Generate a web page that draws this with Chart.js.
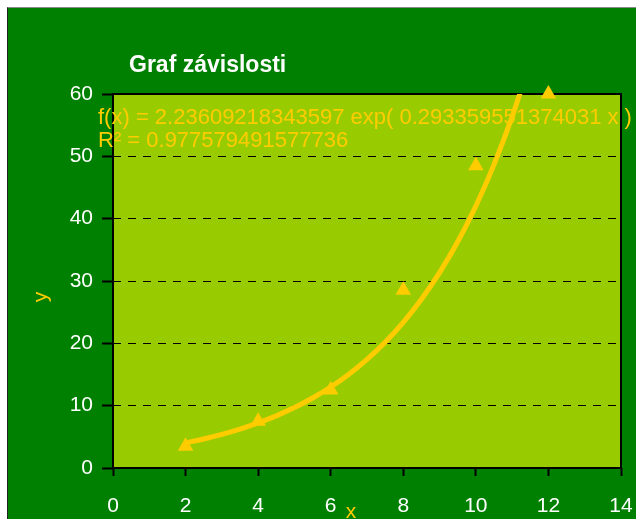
<!DOCTYPE html>
<html lang="cs">
<head>
<meta charset="UTF-8">
<title>Graf závislosti</title>
<script src="https://cdn.jsdelivr.net/npm/chart.js"></script>
<style>
 body { margin: 0; background: #fff; overflow: hidden; }
 .ramecek {
     position: absolute; left: 7px; top: 7px; width: 628px; height: 511px;
     border-left: 1px solid #222; border-top: 1px solid #888;
     background: #008000;
 }
 #graf { position: absolute; left: 0; top: 0; }
</style>
</head>
<body>
<div class="ramecek"></div>
<canvas id="graf" width="636" height="519"></canvas>

<script>
// namerene body
const bodyX = [2, 4, 6, 8, 10, 12];
const bodyY = [3.5, 7.5, 12.5, 28.5, 48.5, 60];

// spojnice trendu (exponencialni)
const trendX = [2, 2.5, 3, 3.5, 4, 4.5, 5, 5.5, 6, 6.5, 7, 7.5, 8, 8.5, 9, 9.5, 10, 10.5, 11, 11.5];
const trendY = [4.02, 4.66, 5.39, 6.24, 7.23, 8.37, 9.69, 11.23, 13.00, 15.05, 17.43, 20.18, 23.37, 27.07, 31.34, 36.29, 42.03, 48.67, 56.36, 65.26];

const xTicks = [0, 2, 4, 6, 8, 10, 12, 14];
const yTicks = [0, 10, 20, 30, 40, 50, 60];

const nadpis = 'Graf závislosti';
const rovnice = ['f(x) = 2.23609218343597 exp( 0.293359551374031 x )', 'R² = 0.977579491577736'];
const popisX = 'x';
const popisY = 'y';

const pismo = '"Liberation Sans", Arial, sans-serif';
const zluta = '#FFCC00';

const kresleni = {
    id: 'kresleni',
    beforeDraw(chart) {
        const {ctx, chartArea: a} = chart;
        ctx.save();
        ctx.fillStyle = '#99CC00';
        ctx.fillRect(a.left, a.top, a.right - a.left, a.bottom - a.top);
        ctx.restore();
    },
    beforeDatasetsDraw(chart) {
        const {ctx, chartArea: a} = chart;
        ctx.save();
        ctx.strokeStyle = '#000';
        ctx.lineWidth = 2;
        ctx.strokeRect(a.left, a.top, a.right - a.left, a.bottom - a.top);
        // popisek trendu
        ctx.fillStyle = zluta;
        ctx.font = '22px ' + pismo;
        ctx.textBaseline = 'alphabetic';
        ctx.fillText(rovnice[0], a.left - 15, a.top + 30);
        ctx.fillText(rovnice[1], a.left - 15, a.top + 53);
        ctx.restore();
    },
    afterDraw(chart) {
        const {ctx} = chart;
        ctx.save();
        ctx.fillStyle = '#fff';
        ctx.font = 'bold 23px ' + pismo;
        ctx.textBaseline = 'alphabetic';
        ctx.fillText(nadpis, 129, 72);

        ctx.fillStyle = zluta;
        ctx.font = '21px ' + pismo;
        ctx.textAlign = 'center';
        ctx.fillText(popisX, 351, 518);
        ctx.translate(47, 297);
        ctx.rotate(-Math.PI / 2);
        ctx.fillText(popisY, 0, 0);
        ctx.restore();
    }
};

new Chart(document.getElementById('graf'), {
    type: 'scatter',
    data: {
        datasets: [
            {
                type: 'line',
                label: 'trend',
                data: trendX.map((x, i) => ({x: x, y: trendY[i]})),
                borderColor: zluta,
                borderWidth: 5,
                pointRadius: 0,
                cubicInterpolationMode: 'monotone',
                fill: false
            },
            {
                label: 'y',
                data: bodyX.map((x, i) => ({x: x, y: bodyY[i]})),
                pointStyle: 'triangle',
                pointRadius: 9,
                backgroundColor: zluta,
                borderColor: zluta,
                borderWidth: 0,
                clip: false
            }
        ]
    },
    options: {
        responsive: false,
        animation: false,
        devicePixelRatio: 1,
        layout: { autoPadding: false, padding: { top: 94, right: 15, left: 0, bottom: 0 } },
        plugins: {
            legend: { display: false },
            tooltip: { enabled: false },
            title: { display: false }
        },
        scales: {
            x: {
                type: 'linear',
                min: 0, max: 14,
                afterBuildTicks: s => { s.ticks = xTicks.map(v => ({value: v})); },
                afterFit: s => { s.height = 51; s.paddingLeft = 0; s.paddingRight = 12; },
                border: { display: false },
                grid: { drawOnChartArea: false, drawTicks: true, tickLength: 8, tickColor: '#000', tickWidth: 2 },
                ticks: { color: '#fff', font: { family: pismo, size: 21 }, padding: 18, maxRotation: 0 }
            },
            y: {
                min: 0, max: 60,
                afterBuildTicks: s => { s.ticks = yTicks.map(v => ({value: v})); },
                afterFit: s => { s.width = 113; },
                border: { display: false, dash: [8, 7] },
                grid: { color: '#000', lineWidth: 1, tickLength: 11, tickColor: '#000', tickWidth: 2, tickBorderDash: [] },
                ticks: { color: '#fff', font: { family: pismo, size: 21 }, padding: 9 }
            }
        }
    },
    plugins: [kresleni]
});
</script>
</body>
</html>
